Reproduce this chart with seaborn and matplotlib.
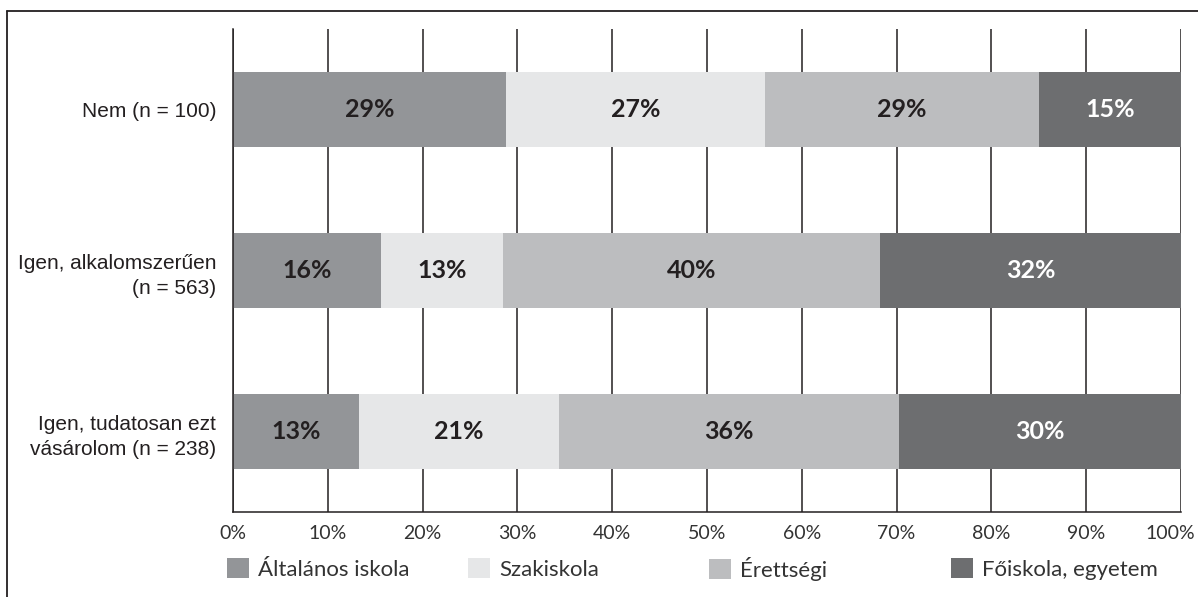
import numpy as np
import pandas as pd
import matplotlib
matplotlib.use("Agg")
import matplotlib.pyplot as plt
import matplotlib.transforms as mtransforms
from matplotlib.patches import Patch
from matplotlib.lines import Line2D
from matplotlib.ticker import PercentFormatter
import seaborn as sns

# data (shares in %)
groups = ["Nem (n = 100)",
          "Igen, alkalomszerűen\n(n = 563)",
          "Igen, tudatosan ezt\nvásárolom (n = 238)"]
levels = ["Általános iskola", "Szakiskola", "Érettségi", "Főiskola, egyetem"]
altalanos = [28.8, 15.6, 13.3]
szakiskola = [27.3, 12.9, 21.1]
erettsegi = [28.9, 39.8, 35.9]
foiskola = [15.0, 31.7, 29.7]

colors = ["#939598", "#e6e7e8", "#bcbdbf", "#6d6e70"]
label_colors = ["#231f20", "#231f20", "#231f20", "#ffffff"]
ink = "#231f20"

df = pd.DataFrame({"group": groups,
                   levels[0]: altalanos,
                   levels[1]: szakiskola,
                   levels[2]: erettsegi,
                   levels[3]: foiskola})
# cumulative widths so the overlapping bars look stacked
cum = df[levels].cumsum(axis=1)

sns.set_style("white")
fig = plt.figure(figsize=(11.98, 5.97), dpi=100)
ax = fig.add_axes([233/1198, 1-512/597, (1181-233)/1198, (512-29)/597])

for i in reversed(range(len(levels))):
    sns.barplot(x=cum[levels[i]], y=df["group"], orient="h", color=colors[i],
                width=0.47, saturation=1, linewidth=0, ax=ax)

# percentage labels in the middle of each segment
for i, lev in enumerate(levels):
    mids = cum[lev] - df[lev] / 2
    for j in range(len(groups)):
        ax.text(mids[j], j, f"{df[lev][j]:.0f}%", ha="center", va="center",
                fontsize=18, fontweight="bold", family="Lato", color=label_colors[i])

ax.set_xlim(0, 100)
ax.set_ylim(2.5, -0.5)
ax.set_xticks(np.arange(0, 101, 10))
ax.xaxis.set_major_formatter(PercentFormatter(decimals=0))
ax.set_xlabel("")
ax.set_ylabel("")
ax.set_axisbelow(True)
ax.grid(axis="x", color=ink, linewidth=1.1)
ax.grid(axis="y", visible=False)
for s in ["top", "right"]:
    ax.spines[s].set_visible(False)
for s in ["left", "bottom"]:
    ax.spines[s].set_color(ink)
    ax.spines[s].set_linewidth(1.1)

ax.set_yticks([-0.5, 0.5, 1.5, 2.5], minor=True)
ax.tick_params(axis="y", which="major", length=0, pad=12)
ax.tick_params(axis="y", which="minor", length=4, width=1.1, color=ink, direction="out")
ax.tick_params(axis="x", which="major", length=3.5, width=1.1, color=ink, pad=6)
for t in ax.get_yticklabels():
    t.set_fontfamily("Liberation Sans")
    t.set_fontsize(15)
    t.set_color(ink)
    t.set_linespacing(1.45)
xlabels = ax.get_xticklabels()
for t in xlabels:
    t.set_fontfamily("Lato")
    t.set_fontsize(14)
    t.set_color("#333333")
# last tick label sits a bit to the left, as in the original
xlabels[-1].set_transform(xlabels[-1].get_transform() +
                          mtransforms.ScaledTranslation(-0.11, 0, fig.dpi_scale_trans))

# legend: four evenly spaced entries
leg_x = [227, 468, 709, 951]
for i, lev in enumerate(levels):
    lg = fig.legend(handles=[Patch(facecolor=colors[i], edgecolor="none")], labels=[lev],
                    loc="center left", bbox_to_anchor=(leg_x[i]/1198, 1-569/597),
                    frameon=False, borderpad=0, borderaxespad=0,
                    handlelength=1.0, handleheight=1.0, handletextpad=0.4,
                    prop={"family": "Lato", "size": 16})
    for t in lg.get_texts():
        t.set_color("#333333")

# frame lines on the left and top edge
fig.add_artist(Line2D([7/1198, 7/1198], [0, 1-11/597], color=ink, linewidth=1.3))
fig.add_artist(Line2D([7/1198, 1], [1-11/597, 1-11/597], color=ink, linewidth=1.3))

fig.savefig("out.png", dpi=100)
